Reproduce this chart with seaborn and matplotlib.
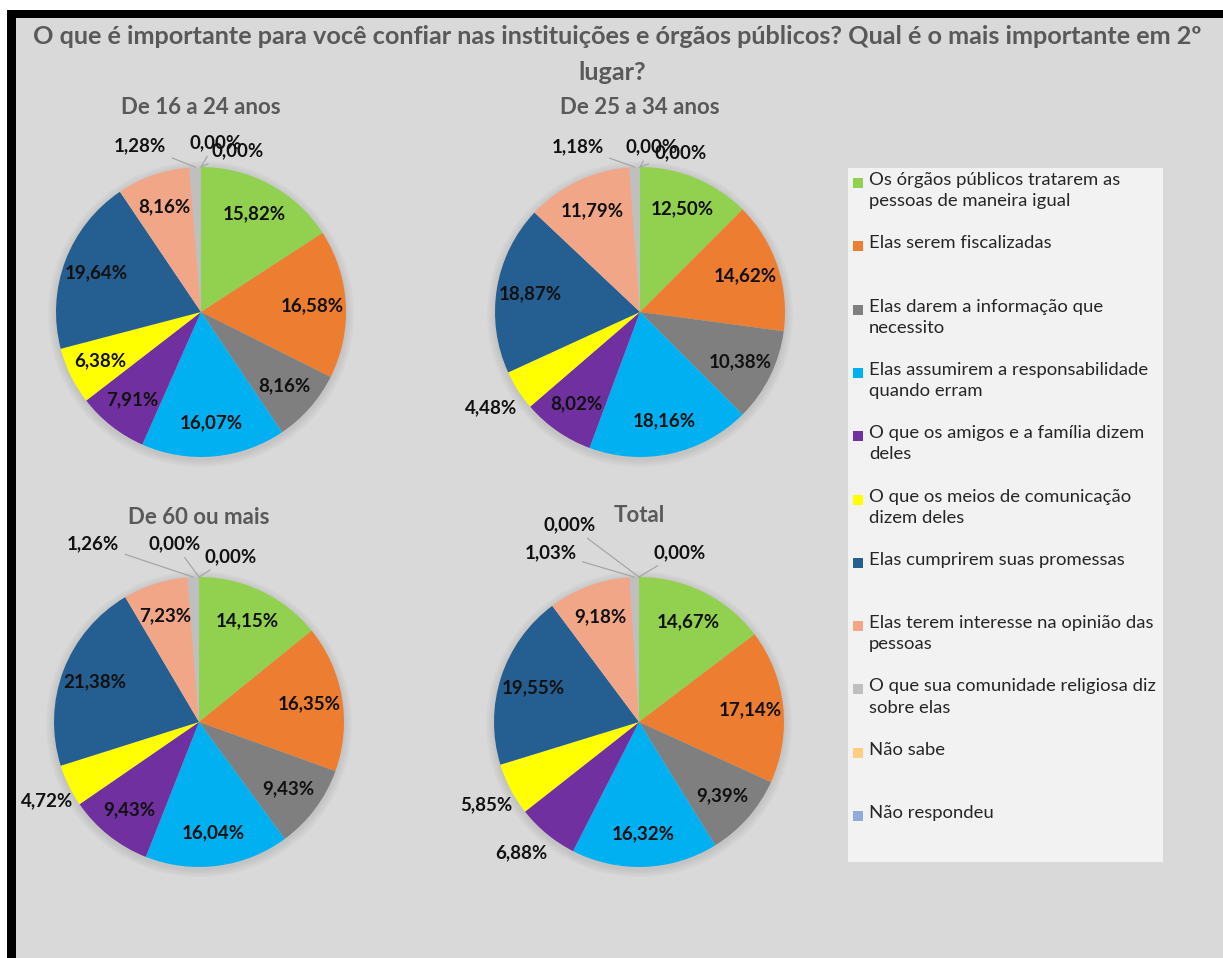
import numpy as np
import pandas as pd
import matplotlib.pyplot as plt
import seaborn as sns
from matplotlib.patches import Rectangle, Circle

# categories in legend order
categories = [
    "Os órgãos públicos tratarem as\npessoas de maneira igual",
    "Elas serem fiscalizadas",
    "Elas darem a informação que\nnecessito",
    "Elas assumirem a responsabilidade\nquando erram",
    "O que os amigos e a família dizem\ndeles",
    "O que os meios de comunicação\ndizem deles",
    "Elas cumprirem suas promessas",
    "Elas terem interesse na opinião das\npessoas",
    "O que sua comunidade religiosa diz\nsobre elas",
    "Não sabe",
    "Não respondeu",
]

# percentages per age group
de_16_a_24 = [15.82, 16.58, 8.16, 16.07, 7.91, 6.38, 19.64, 8.16, 1.28, 0.00, 0.00]
de_25_a_34 = [12.50, 14.62, 10.38, 18.16, 8.02, 4.48, 18.87, 11.79, 1.18, 0.00, 0.00]
de_60_ou_mais = [14.15, 16.35, 9.43, 16.04, 9.43, 4.72, 21.38, 7.23, 1.26, 0.00, 0.00]
total = [14.67, 17.14, 9.39, 16.32, 6.88, 5.85, 19.55, 9.18, 1.03, 0.00, 0.00]

panel_titles = ["De 16 a 24 anos", "De 25 a 34 anos", "De 60 ou mais", "Total"]

colors = ["#92d050", "#ed7d31", "#7f7f7f", "#00b0f0", "#7030a0", "#ffff00",
          "#255e91", "#f2a688", "#bfbfbf", "#ffcc80", "#8faadc"]

# labels Excel pushed outside the pie (relative position, pie radius = 1)
outside_spots = [
    {8: (-0.42, 1.15), 9: (0.10, 1.17), 10: (0.25, 1.11)},
    {8: (-0.43, 1.14), 9: (0.08, 1.14), 10: (0.28, 1.10), 5: (-1.03, -0.66)},
    {8: (-0.73, 1.23), 9: (-0.17, 1.23), 10: (0.22, 1.14), 5: (-1.05, -0.54)},
    {8: (-0.61, 1.17), 9: (-0.48, 1.36), 10: (0.28, 1.17), 5: (-1.05, -0.57), 4: (-0.81, -0.90)},
]

W, H = 1223, 958
RADIUS_PX = 145
BG = "#d9d9d9"
TITLE_COLOR = "#595959"
LABEL_SIZE = 13.5

sns.set_theme(style="white")
plt.rcParams["font.family"] = ["Lato", "DejaVu Sans"]

df = pd.DataFrame({
    "categoria": categories,
    panel_titles[0]: de_16_a_24,
    panel_titles[1]: de_25_a_34,
    panel_titles[2]: de_60_ou_mais,
    panel_titles[3]: total,
})
palette = sns.color_palette(colors)

fig = plt.figure(figsize=(W / 100, H / 100), dpi=100, facecolor="white")


def px_rect(left, top, width, height):
    return [left / W, 1 - (top + height) / H, width / W, height / H]


def add_block(left, top, width, height, color):
    x, y, w, h = px_rect(left, top, width, height)
    fig.patches.append(Rectangle((x, y), w, h, transform=fig.transFigure,
                                 facecolor=color, edgecolor="none", zorder=-10))


# frame: gray canvas with black top and left borders
add_block(16, 18, W - 16, H - 18, BG)
add_block(7, 10, W - 7, 8, "black")
add_block(7, 10, 9, H - 10, "black")

fig.text(617 / W, 1 - 36 / H,
         "O que é importante para você confiar nas instituições e órgãos públicos? Qual é o mais importante em 2º",
         ha="center", va="center", fontsize=18.2, fontweight="bold", color=TITLE_COLOR)
fig.text(612 / W, 1 - 73 / H, "lugar?",
         ha="center", va="center", fontsize=18.2, fontweight="bold", color=TITLE_COLOR)

centers = [(201, 312), (640, 312), (199, 722), (639, 722)]
title_y = [107, 107, 517, 516]
box = 420
lim = box / 2 / RADIUS_PX

for i, name in enumerate(panel_titles):
    cx, cy = centers[i]
    ax = fig.add_axes(px_rect(cx - box / 2, cy - box / 2, box, box))
    ax.set_facecolor("none")
    vals = df[name].to_numpy()

    # soft shadow
    for k in range(1, 6):
        ax.add_patch(Circle((0.0, -0.015), 1.0 + 0.011 * k, facecolor="#7a7a7a",
                            alpha=0.045, edgecolor="none", zorder=0))

    wedges, _ = ax.pie(vals, colors=palette, startangle=90, counterclock=False,
                       radius=1.0, wedgeprops=dict(linewidth=0, zorder=2))
    ax.set_xlim(-lim, lim)
    ax.set_ylim(-lim, lim)
    ax.axis("off")

    spots = outside_spots[i]
    for j, (w, v) in enumerate(zip(wedges, vals)):
        mid = np.deg2rad((w.theta1 + w.theta2) / 2)
        label = f"{v:.2f}%".replace(".", ",")
        if j in spots:
            lx, ly = spots[j]
            if v < 2:
                ex, ey = np.cos(mid) * 1.0, np.sin(mid) * 1.0
                ax.annotate(label, xy=(ex, ey), xytext=(lx, ly), ha="center", va="center",
                            fontsize=LABEL_SIZE, fontweight="bold", color="#111111", zorder=5,
                            arrowprops=dict(arrowstyle="-", color="#a6a6a6", lw=0.9,
                                            shrinkA=2, shrinkB=0))
            else:
                ax.text(lx, ly, label, ha="center", va="center", fontsize=LABEL_SIZE,
                        fontweight="bold", color="#111111", zorder=5)
        else:
            r = 0.77
            ax.text(np.cos(mid) * r, np.sin(mid) * r, label, ha="center", va="center",
                    fontsize=LABEL_SIZE, fontweight="bold", color="#111111", zorder=5)

    fig.text(cx / W, 1 - title_y[i] / H, name, ha="center", va="center",
             fontsize=16, fontweight="bold", color=TITLE_COLOR)

# legend panel (drawn as Excel lays it out: fixed slot per entry)
leg_left, leg_top, leg_w, leg_h = 848, 168, 315, 694
lax = fig.add_axes(px_rect(leg_left, leg_top, leg_w, leg_h))
lax.set_facecolor("#f2f2f2")
lax.set_xlim(0, leg_w)
lax.set_ylim(leg_h, 0)
lax.set_xticks([])
lax.set_yticks([])
for s in lax.spines.values():
    s.set_visible(False)

first_y = 15
step = (816 - 183) / 10
for j, cat in enumerate(categories):
    y = first_y + step * j
    lax.scatter([9.5], [y], marker="s", s=42, color=palette[j], linewidths=0)
    lax.text(21, y - 11, cat, ha="left", va="top", fontsize=13.3, color="#262626",
             linespacing=1.4)

fig.savefig("out.png", dpi=100, facecolor=fig.get_facecolor())
